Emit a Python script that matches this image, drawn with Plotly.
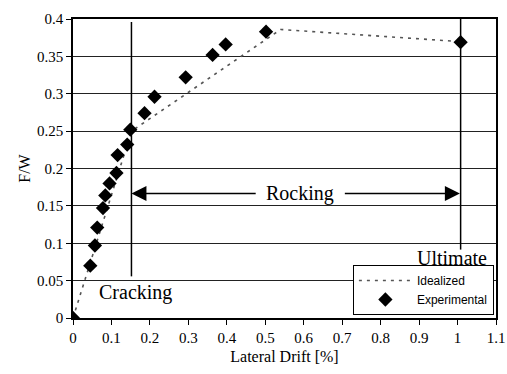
import plotly.graph_objects as go

# Experimental data
exp_drift = [0.0, 0.045, 0.057, 0.063, 0.078, 0.084, 0.095, 0.113, 0.116, 0.141, 0.149,
             0.186, 0.212, 0.293, 0.363, 0.397, 0.502, 1.008]
exp_fw = [0.0, 0.070, 0.097, 0.121, 0.147, 0.164, 0.180, 0.194, 0.218, 0.232, 0.252,
          0.274, 0.296, 0.322, 0.352, 0.366, 0.383, 0.369]

# Idealized curve
ideal_drift = [0.0, 0.152, 0.54, 1.0]
ideal_fw = [0.0, 0.250, 0.386, 0.370]

x_ticks = [0, 0.1, 0.2, 0.3, 0.4, 0.5, 0.6, 0.7, 0.8, 0.9, 1, 1.1]
y_ticks = [0, 0.05, 0.1, 0.15, 0.2, 0.25, 0.3, 0.35, 0.4]

crack_x = 0.152
ult_x = 1.008

SERIF = "Liberation Serif"
SANS = "Liberation Sans"

fig = go.Figure()
fig.add_trace(go.Scatter(x=ideal_drift, y=ideal_fw, mode="lines", name="Idealized",
                         line=dict(color="#555555", width=1.6, dash="3px,5px")))
fig.add_trace(go.Scatter(x=exp_drift, y=exp_fw, mode="markers", name="Experimental",
                         marker=dict(symbol="diamond", size=11, color="black")))

# vertical marker lines
fig.add_shape(type="line", x0=crack_x, x1=crack_x, y0=0.0557, y1=0.396, xref="x", yref="y",
              line=dict(color="black", width=1.5))
fig.add_shape(type="line", x0=ult_x, x1=ult_x, y0=0.0915, y1=0.4, xref="x", yref="y",
              line=dict(color="black", width=1.5))

# text labels
fig.add_annotation(x=0.162, y=0.034, text="Cracking", showarrow=False, xref="x", yref="y",
                   font=dict(family=SERIF, size=20, color="black"))
fig.add_annotation(x=0.591, y=0.167, text="Rocking", showarrow=False, xref="x", yref="y",
                   font=dict(family=SERIF, size=20, color="black"))
fig.add_annotation(x=1.081, y=0.080, text="Ultimate", showarrow=False, xref="x", yref="y",
                   xanchor="right", font=dict(family=SERIF, size=20, color="black"))

# arrows
fig.add_annotation(x=crack_x, y=0.1665, ax=0.479, ay=0.1665, xref="x", yref="y",
                   axref="x", ayref="y", showarrow=True, arrowhead=2, arrowsize=2,
                   arrowwidth=1.5, arrowcolor="black", text="", standoff=0)
fig.add_annotation(x=1.006, y=0.1665, ax=0.703, ay=0.1665, xref="x", yref="y",
                   axref="x", ayref="y", showarrow=True, arrowhead=2, arrowsize=2,
                   arrowwidth=1.5, arrowcolor="black", text="", standoff=0)

fig.update_layout(
    width=507, height=374,
    margin=dict(l=72.5, r=11, t=18.5, b=55.5, autoexpand=False),
    paper_bgcolor="white", plot_bgcolor="white",
    font=dict(family=SERIF, size=15, color="black"),
    showlegend=True,
    legend=dict(x=0.995, y=0.01, xanchor="right", yanchor="bottom",
                bgcolor="white", bordercolor="black", borderwidth=1,
                font=dict(family=SANS, size=12, color="black"),
                tracegroupgap=0, itemwidth=53),
    xaxis=dict(range=[0, 1.1], tickvals=x_ticks, ticktext=[f"{v:g}" for v in x_ticks],
               showgrid=False, zeroline=False, showline=True, linecolor="black",
               linewidth=1.5, mirror=True, ticks="outside", ticklen=5, tickcolor="black",
               automargin=False,
               title=dict(text="Lateral Drift [%]", font=dict(family=SERIF, size=16), standoff=6),
               tickfont=dict(family=SERIF, size=15)),
    yaxis=dict(range=[0, 0.4], tickvals=y_ticks, ticktext=[f"{v:g}" for v in y_ticks],
               showgrid=True, gridcolor="#222222", gridwidth=1,
               zeroline=False, showline=True, linecolor="black",
               linewidth=1.5, mirror=True, ticks="outside", ticklen=5, tickcolor="black",
               automargin=False,
               title=dict(text="F/W", font=dict(family=SERIF, size=16), standoff=2),
               tickfont=dict(family=SERIF, size=15)),
)

fig.write_html("out.html", config={"displayModeBar": False},
               post_script="document.body.style.margin='0';")
